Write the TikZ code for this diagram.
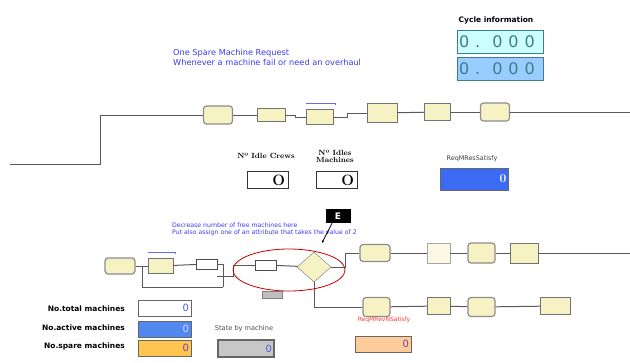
\documentclass[tikz,border=0pt]{standalone}
\usepackage{fontspec}
\newfontfamily\dvs{DejaVu Sans}
\usetikzlibrary{shapes.geometric,shapes.misc,arrows.meta}
\definecolor{modyel}{HTML}{F7F2C4}
\definecolor{noteblue}{HTML}{3B3BF2}
\definecolor{cyanbox}{HTML}{CCFFFF}
\definecolor{skybox}{HTML}{99CCFF}
\definecolor{digitcol}{HTML}{3D7F86}
\definecolor{resblue}{HTML}{3A6BF2}
\definecolor{actblue}{HTML}{5289F0}
\definecolor{sparebox}{HTML}{FFC54F}
\definecolor{peachbox}{HTML}{FFCB98}
\definecolor{valpurple}{HTML}{7A3FA8}
\definecolor{valblue}{HTML}{5555E6}
\definecolor{reqred}{HTML}{FF3B3B}
\definecolor{barblue}{HTML}{6A6AF0}
\tikzset{
  mod/.style={draw=black!55, fill=modyel, minimum width=27pt, minimum height=15pt, inner sep=0pt},
  rmod/.style={mod, rounded corners=3pt, line width=1.2pt, draw=black!45},
  wmod/.style={draw=black!70, fill=white, minimum width=21pt, minimum height=10pt, inner sep=0pt},
  flow/.style={draw=black!65, line width=1pt},
  bar/.style={draw=barblue, line width=1.2pt},
  note/.style={text=noteblue, align=left, anchor=west, inner sep=0pt},
  capt/.style={font=\dvs\bfseries\fontsize{7.5}{8}\selectfont, inner sep=0pt},
  valbox/.style={draw=black!60, line width=.8pt, inner sep=2pt, minimum height=16pt, align=right, font=\dvs\fontsize{10}{10}\selectfont},
  cycbox/.style={draw=digitcol, line width=.8pt, inner sep=2pt, minimum height=23pt, text width=82pt, align=left, text=digitcol, font=\dvs\fontsize{16}{16}\selectfont},
  idlebox/.style={draw=black!80, line width=.8pt, fill=white, inner sep=3pt, minimum height=16pt, text width=35pt, align=right, font=\bfseries\fontsize{15}{15}\selectfont}
}
\newcommand{\cycval}{0\hspace{6pt}.\hspace{12pt}0\hspace{6pt}0\hspace{6pt}0}
\begin{document}
\begin{tikzpicture}[x=1pt,y=-1pt]
\useasboundingbox[fill=white] (0,0) rectangle (630,362);
% cycle information
\node[capt] (cyc) at (496,20) {Cycle information};
\node[cycbox, fill=cyanbox] (cyc1) at (500,41.5) {\cycval};
\node[cycbox, fill=skybox] (cyc2) at (500,68.5) {\cycval};
\node[note, font=\dvs\fontsize{8.2}{10.5}\selectfont] (req) at (173,57.5) {One Spare Machine Request\\Whenever a machine fail or need an overhaul};
% upper line
\node[rmod, minimum width=29pt, minimum height=18pt] (m1) at (218,115) {};
\node[mod, minimum width=28pt, minimum height=13pt] (m2) at (271,115) {};
\node[mod, minimum width=27pt, minimum height=15pt] (m3) at (320,117) {};
\node[mod, minimum width=30pt, minimum height=19pt] (m4) at (382,113) {};
\node[mod, minimum width=26pt, minimum height=17pt] (m5) at (437,112) {};
\node[rmod, minimum width=29pt, minimum height=18pt] (m6) at (495,112) {};
\coordinate (in0) at (10,164);
\coordinate (out0) at (630,112);
\draw[flow] (in0) -- (100,164) |- (m1.west);
\draw[flow] (m1) -- (m2);
\draw[flow] (m2.east) -- ++(10,0) |- (m3.west);
\draw[flow] (m3.east) -- ++(14,0) |- (m4.west);
\draw[flow] (m4) -- (m5);
\draw[flow] (m5) -- (m6);
\draw[flow] (m6) -- (out0);
\draw[bar] ([yshift=6pt]m3.north west) -- ([yshift=6pt,xshift=2pt]m3.north east) -- ++(0,2);
% idle counters
\node[font=\bfseries\fontsize{7.5}{8}\selectfont] (crewlbl) at (266,156) {Nº Idle Crews};
\node[idlebox] (crew) at (267.5,180) {O};
\node[font=\bfseries\fontsize{7.5}{8}\selectfont, align=center, inner sep=0pt] (maclbl) at (335,156) {Nº Idles\\[-1pt]Machines};
\node[idlebox] (mac) at (336.5,180) {O};
\node[font=\dvs\fontsize{6.4}{7}\selectfont, text=black!75, inner sep=0pt] (reslbl) at (472,159) {ReqMResSatisfy};
\node[valbox, fill=resblue, text=white, text width=64pt, minimum height=22pt, font=\bfseries\fontsize{12}{12}\selectfont] (res) at (474.5,179) {0};
% lower line
\node[note, font=\dvs\fontsize{6.2}{7.2}\selectfont] (dec) at (172,229.5) {Decrease number of free machines here\\Put also assign one of an attribute that takes the value of 2};
\node[fill=black, text=white, font=\dvs\bfseries\fontsize{9}{9}\selectfont, minimum width=25pt, minimum height=14pt, inner sep=0pt] (E) at (338,216) {E};
\coordinate (Etip) at (322,243);
\draw[line width=.8pt, -{Stealth[length=3pt]}] ([xshift=-6pt]E.south) -- (Etip);
\node[rmod, minimum width=30pt, minimum height=16pt] (b1) at (120,266) {};
\node[mod, minimum width=25pt, minimum height=15pt] (b2) at (160.5,266) {};
\node[wmod] (b3) at (206.5,264) {};
\node[wmod] (b4) at (265.5,265) {};
\node[diamond, draw=black!55, fill=modyel, minimum width=34pt, minimum height=30pt, inner sep=0pt] (b5) at (314,267) {};
\draw[bar] ([yshift=6pt]b2.north west) -- ([yshift=6pt,xshift=2pt]b2.north east) -- ++(0,2);
\coordinate (jn) at (142,266);
\coordinate (lpr) at (223,287);
\coordinate (mrg) at (217,276);
\coordinate (mrg2) at (233,276);
\draw[flow] (b1) -- (b2);
\draw[flow] (b2) -- (b3);
\draw[flow] (b3.east) -| (lpr);
\draw[flow] (jn) |- (lpr);
\draw[flow] (mrg) -- (mrg2) |- (b4.west);
\draw[flow] (b4) -- (b5);
\node[rmod, minimum width=30pt, minimum height=17pt] (t1) at (375,253) {};
\node[mod, fill=modyel!45, draw=black!35, minimum width=23pt, minimum height=20pt] (t2) at (438.5,253) {};
\node[rmod, minimum width=27pt, minimum height=20pt] (t3) at (481.5,253) {};
\node[mod, minimum width=28pt, minimum height=20pt] (t4) at (524,253) {};
\coordinate (out1) at (630,253);
\draw[flow] (b5.east) -- ++(14,0) |- (t1.west);
\draw[flow] (t1) -- (t2);
\draw[flow] (t2) -- (t3);
\draw[flow] (t3) -- (t4);
\draw[flow] (t4) -- (out1);
\node[rmod, minimum width=27pt, minimum height=19pt] (u1) at (376.5,307) {};
\node[mod, minimum width=23pt, minimum height=17pt] (u2) at (438.5,306) {};
\node[rmod, minimum width=27pt, minimum height=19pt] (u3) at (481.5,307) {};
\node[chamfered rectangle, chamfered rectangle corners=north west, chamfered rectangle xsep=4pt, chamfered rectangle ysep=4pt, draw=black!55, fill=modyel, minimum width=30pt, minimum height=17pt, inner sep=0pt] (u4) at (555,306) {};
\draw[flow] (b5.south) |- (u1.west);
\draw[flow] (u1) -- (u2);
\draw[flow] (u2) -- (u3);
\draw[flow] (u3) -- (u4);
\draw[red!80!black, line width=.8pt] (289,270) ellipse [x radius=56pt, y radius=21pt];
\node[draw=black!50, fill=black!25, minimum width=20pt, minimum height=7pt, inner sep=0pt] (gry) at (272,295) {};
% machine counters
\node[capt, anchor=east] (totlbl) at (125,309) {No.total machines};
\node[capt, anchor=east] (actlbl) at (125,328) {No.active machines};
\node[capt, anchor=east] (sparelbl) at (125,346) {No.spare machines};
\node[valbox, fill=white, text=valblue, text width=49pt] (tot) at (164.5,308) {0};
\node[valbox, fill=actblue, text=blue!15, text width=49pt] (act) at (164.5,329) {0};
\node[valbox, fill=sparebox, text=valpurple, text width=49pt] (spare) at (164.5,348) {0};
\node[font=\dvs\fontsize{6.6}{7}\selectfont, text=black!70, inner sep=0pt] (statelbl) at (244,329) {State by machine};
\node[valbox, fill=black!22, line width=1.1pt, text=valblue, text width=52pt, minimum height=17pt] (state) at (246,348.5) {0};
\node[font=\dvs\fontsize{6}{7}\selectfont, text=reqred, inner sep=0pt] (revlbl) at (384,320) {ReqMRevNSatisfy};
\node[valbox, fill=peachbox, text=valpurple, text width=52pt] (rev) at (383,344) {0};
\end{tikzpicture}
\end{document}
